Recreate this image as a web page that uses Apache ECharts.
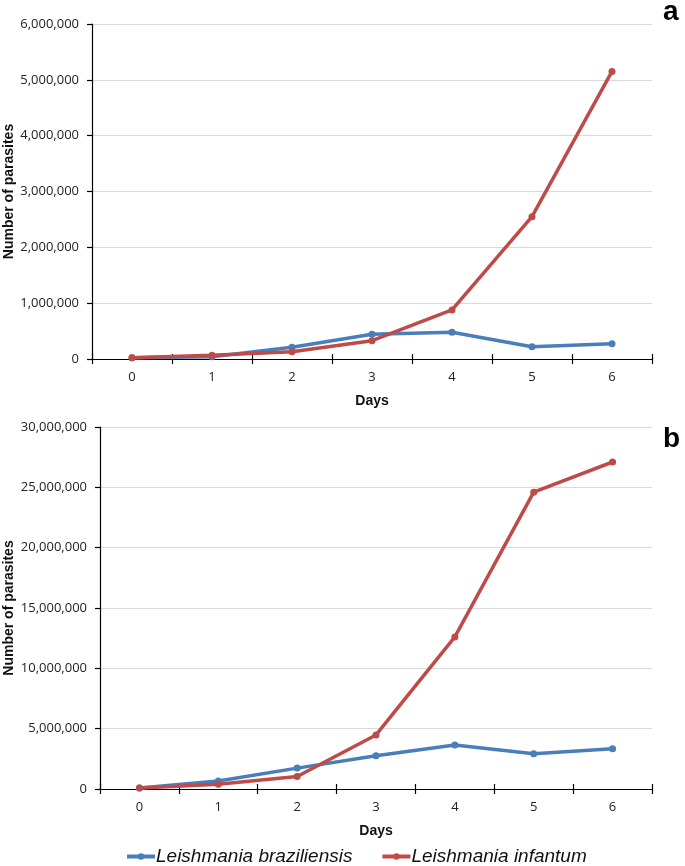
<!DOCTYPE html>
<html><head><meta charset="utf-8">
<script src="https://cdn.jsdelivr.net/npm/echarts@6/dist/echarts.min.js"></script>
<style>html,body{margin:0;padding:0;background:#fff}#c{width:685px;height:866px}</style>
</head><body><div id="c"></div>
<script>
const days = ['0','1','2','3','4','5','6'];
const braziliensisA = [24000, 40000, 209000, 442000, 478000, 221000, 275000];
const infantumA = [24000, 65000, 131000, 328000, 878000, 2550000, 5150000];
const braziliensisB = [90000, 660000, 1730000, 2750000, 3640000, 2930000, 3340000];
const infantumB = [90000, 390000, 1040000, 4480000, 12600000, 24600000, 27100000];
const yTicksA = {min: 0, max: 6000000, interval: 1000000};
const yTicksB = {min: 0, max: 30000000, interval: 5000000};

const BLUE = '#4a7ebb', RED = '#be4b48';
const tickFont = {fontFamily: '"Open Sans", sans-serif', fontSize: 13, color: '#222'};
const fmt = v => v.toLocaleString('en-US');

function xAxes(gi) {
  return [
    {gridIndex: gi, type: 'category', data: days, boundaryGap: true,
     axisLine: {lineStyle: {color: '#000', width: 1.2}},
     axisTick: {show: true, length: 5, lineStyle: {color: '#000', width: 1.2}},
     axisLabel: Object.assign({margin: 12}, tickFont),
     name: 'Days', nameLocation: 'middle', nameGap: 35, nameMoveOverlap: false,
     nameTextStyle: {fontFamily: '"Liberation Sans", Arial, sans-serif', fontWeight: 'bold', fontSize: 14, color: '#111'}},
    {gridIndex: gi, type: 'category', data: days, boundaryGap: true, position: 'bottom',
     axisLine: {show: false},
     axisTick: {show: true, inside: true, length: 5, lineStyle: {color: '#000', width: 1.2}},
     axisLabel: {show: false}}
  ];
}
function yAxis(gi, t, gap) {
  return {gridIndex: gi, type: 'value', min: t.min, max: t.max, interval: t.interval,
    axisLine: {show: true, lineStyle: {color: '#000', width: 1.2}},
    axisTick: {show: true, length: 5, lineStyle: {color: '#000', width: 1.2}},
    splitLine: {lineStyle: {color: '#d9d9d9', width: 1.2}},
    axisLabel: Object.assign({margin: 13, formatter: fmt}, tickFont),
    name: 'Number of parasites', nameLocation: 'middle', nameGap: gap, nameMoveOverlap: false,
    nameTextStyle: {fontFamily: '"Liberation Sans", Arial, sans-serif', fontWeight: 'bold', fontSize: 14, color: '#111'}};
}
function line(name, data, color, xi, yi) {
  return {name, type: 'line', data, xAxisIndex: xi, yAxisIndex: yi,
    symbol: 'circle', symbolSize: 7, showSymbol: true,
    lineStyle: {color, width: 3.5}, itemStyle: {color}, emphasis: {disabled: true}, animation: false};
}

const chart = echarts.init(document.getElementById('c'), null, {renderer: 'canvas'});
chart.setOption({
  animation: false,
  grid: [
    {left: 92, top: 24, width: 560, height: 335, outerBoundsMode: 'none', containLabel: false},
    {left: 100, top: 427, width: 552, height: 362, outerBoundsMode: 'none', containLabel: false}
  ],
  xAxis: [...xAxes(0), ...xAxes(1)],
  yAxis: [yAxis(0, yTicksA, 76), yAxis(1, yTicksB, 84)],
  legend: {
    bottom: -5, left: 120, itemWidth: 28, itemHeight: 8, itemGap: 28,
    lineStyle: {width: 4},
    textStyle: {fontFamily: '"Liberation Sans", Arial, sans-serif', fontStyle: 'italic', fontSize: 19, color: '#111', padding: [0,0,0,-4]},
    data: ['Leishmania braziliensis', 'Leishmania infantum']
  },
  graphic: [
    {type: 'text', left: 663, top: -2, style: {text: 'a', font: 'bold 28px "Liberation Sans", Arial, sans-serif', fill: '#000'}},
    {type: 'text', left: 663, top: 425, style: {text: 'b', font: 'bold 28px "Liberation Sans", Arial, sans-serif', fill: '#000'}}
  ],
  series: [
    line('Leishmania braziliensis', braziliensisA, BLUE, 0, 0),
    line('Leishmania infantum', infantumA, RED, 0, 0),
    line('Leishmania braziliensis', braziliensisB, BLUE, 2, 1),
    line('Leishmania infantum', infantumB, RED, 2, 1)
  ]
});
</script></body></html>
